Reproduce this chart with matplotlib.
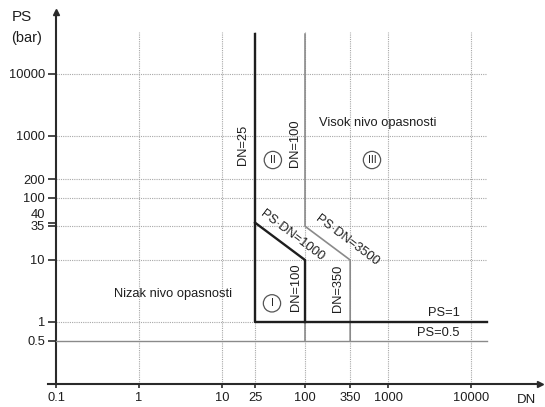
import matplotlib
matplotlib.use('Agg')
import matplotlib.pyplot as plt
import matplotlib.transforms as mtransforms

plt.rcParams['font.family'] = ['Liberation Sans', 'DejaVu Sans']

# ---- data ----
dn_ticks = [0.1, 1, 10, 25, 100, 350, 1000, 10000]
dn_tick_labels = ['0.1', '1', '10', '25', '100', '350', '1000', '10000']
ps_ticks = [0.5, 1, 10, 35, 40, 100, 200, 1000, 10000]
ps_tick_labels = ['0.5', '1', '10', '35', '40', '100', '200', '1000', '10000']
dn_grid = [1, 10, 25, 100, 350, 1000, 10000]
ps_grid = [1, 10, 35, 100, 200, 1000, 10000]

dn_end = 15600      # right end of the boundary lines
ps_top = 44000      # top end of the vertical boundary lines
grid_top = 47500

# black boundaries (category I / II limits)
black_a_dn = [25, 25, dn_end]
black_a_ps = [ps_top, 1, 1]
black_b_dn = [25, 100, 100]
black_b_ps = [40, 10, 1]
# grey boundaries (category II / III limits)
grey_c_dn = [100, 100, 350, 350]
grey_c_ps = [ps_top, 35, 10, 0.5]
grey_d_dn = [100, 100]
grey_d_ps = [1, 0.5]
grey_e_dn = [0.1, dn_end]
grey_e_ps = [0.5, 0.5]

# ---- figure ----
W, H = 545, 407
fig = plt.figure(figsize=(W / 100, H / 100), dpi=100)
ax = fig.add_axes([56 / W, (H - 384) / H, 484 / W, 372 / H])
ax.set_xscale('log')
ax.set_yscale('log')
ax.set_xlim(0.1, 10 ** 4.831)
ax.set_ylim(0.1, 1e5)

TXT = '#1e1e1e'
BLK = '#1e1e1e'
GRY = '#8a8a8a'

for s in ['top', 'right']:
    ax.spines[s].set_visible(False)
for s in ['left', 'bottom']:
    ax.spines[s].set_color('#2a2a2a')
    ax.spines[s].set_linewidth(1.5)

# arrow heads + small x-axis extension
ax.plot([0], [1], marker='^', color='#2a2a2a', markersize=5, transform=ax.transAxes, clip_on=False)
ax.plot([1], [0], marker='>', color='#2a2a2a', markersize=5, transform=ax.transAxes, clip_on=False)
ax.plot([-8 / 484, 0], [0, 0], color='#2a2a2a', lw=1.5, transform=ax.transAxes, clip_on=False)

# grid
ax.hlines(ps_grid, 0.1, dn_end, colors='#a8a8a8', linestyles=(0, (1, 1)), lw=0.8, zorder=1)
ax.vlines(dn_grid, 0.1, grid_top, colors='#a8a8a8', linestyles=(0, (1, 1)), lw=0.8, zorder=1)

# boundaries
ax.plot(grey_c_dn, grey_c_ps, color=GRY, lw=1.2, zorder=3)
ax.plot(grey_d_dn, grey_d_ps, color=GRY, lw=1.2, zorder=3)
ax.plot(grey_e_dn, grey_e_ps, color=GRY, lw=1.0, zorder=3)
ax.plot(black_a_dn, black_a_ps, color=BLK, lw=1.7, zorder=4)
ax.plot(black_b_dn, black_b_ps, color=BLK, lw=1.7, zorder=4)

# ticks
ax.minorticks_off()
ax.set_xticks(dn_ticks)
ax.set_xticklabels(dn_tick_labels)
ax.set_yticks(ps_ticks)
ax.set_yticklabels(ps_tick_labels)
ax.tick_params(axis='x', direction='out', length=3, width=1.2, pad=3,
               labelsize=9.3, colors='#2a2a2a', labelcolor=TXT)
ax.tick_params(axis='y', direction='out', length=6, width=1.2, pad=2,
               labelsize=9.3, colors='#2a2a2a', labelcolor=TXT)

yt = ax.yaxis.get_major_ticks()
i40 = ps_ticks.index(40)
i35 = ps_ticks.index(35)
lab40 = yt[i40].label1
lab40.set_transform(lab40.get_transform() + mtransforms.ScaledTranslation(0, 9.5 / 100, fig.dpi_scale_trans))
lab35 = yt[i35].label1
lab35.set_transform(lab35.get_transform() + mtransforms.ScaledTranslation(0, 1.0 / 100, fig.dpi_scale_trans))

# axis titles
fig.text(12 / W, 1 - 17 / H, 'PS', fontsize=11, color=TXT, ha='left', va='center')
fig.text(11 / W, 1 - 38 / H, '(bar)', fontsize=10.5, color=TXT, ha='left', va='center')
fig.text(527 / W, 1 - 400 / H, 'DN', fontsize=9.5, color=TXT, ha='center', va='center')

# region texts
fs = 9.3
ax.text(2.6, 2.8, 'Nizak nivo opasnosti', fontsize=fs, color=TXT, ha='center', va='center')
ax.text(760, 1620, 'Visok nivo opasnosti', fontsize=fs, color=TXT, ha='center', va='center')
ax.text(17.9, 716, 'DN=25', fontsize=fs, color=TXT, rotation=90, ha='center', va='center')
ax.text(76, 771, 'DN=100', fontsize=fs, color=TXT, rotation=90, ha='center', va='center')
ax.text(78, 3.67, 'DN=100', fontsize=fs, color=TXT, rotation=90, ha='center', va='center')
ax.text(250, 3.5, 'DN=350', fontsize=fs, color=TXT, rotation=90, ha='center', va='center')
ax.text(70, 24.4, 'PS·DN=1000', fontsize=fs, color=TXT, rotation=-37, ha='center', va='center',
        rotation_mode='anchor')
ax.text(321, 21, 'PS·DN=3500', fontsize=fs, color=TXT, rotation=-37, ha='center', va='center',
        rotation_mode='anchor')
ax.text(7360, 1.4, 'PS=1', fontsize=fs, color=TXT, ha='right', va='center')
ax.text(7360, 0.665, 'PS=0.5', fontsize=fs, color=TXT, ha='right', va='center')

circ = dict(boxstyle='circle,pad=0.35', fc='white', ec='#555555', lw=0.9)
ax.text(41, 410, 'II', fontsize=7.5, color=TXT, ha='center', va='center', bbox=circ, zorder=5)
ax.text(641, 410, 'III', fontsize=7.5, color=TXT, ha='center', va='center', bbox=circ, zorder=5)
ax.text(40, 2.0, 'I', fontsize=7.5, color=TXT, ha='center', va='center', bbox=circ, zorder=5)

fig.savefig('out.png', dpi=100)
